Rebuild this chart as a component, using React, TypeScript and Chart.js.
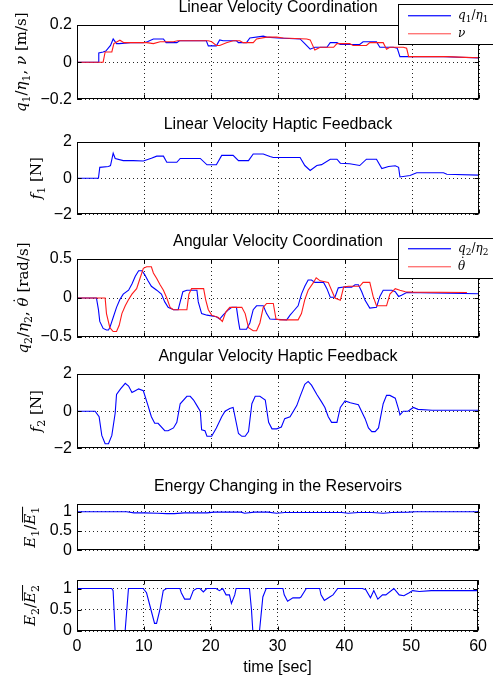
import React, { useEffect, useRef } from "react";
import { Chart, registerables } from "chart.js";

Chart.register(...registerables);

const BLUE = "#0000ff";
const RED = "#ff1a1a";

// ---------- Panel 1: Linear Velocity Coordination ----------
const p1BlueT = [0, 3.2, 3.25, 3.9, 4.3, 5.0, 5.4, 5.9, 6.3, 8, 9.9, 10.5, 11.4, 12.9, 13.3, 14.9, 15.3, 17, 19.3, 19.6, 20.8, 21.3, 21.8, 23.8, 24.1, 25.3, 25.8, 27.8, 28.3, 30, 33.3, 34.0, 34.8, 35.5, 37.3, 37.8, 38.8, 39.3, 42.2, 42.7, 44.7, 45.2, 46.2, 47.2, 47.8, 48.2, 50, 54.7, 57, 60];
const p1Blue = [0, 0, 0.05, 0.055, 0.06, 0.09, 0.125, 0.1, 0.1, 0.105, 0.105, 0.11, 0.125, 0.125, 0.105, 0.105, 0.115, 0.115, 0.115, 0.088, 0.088, 0.12, 0.115, 0.115, 0.105, 0.105, 0.13, 0.14, 0.135, 0.13, 0.125, 0.1, 0.07, 0.08, 0.08, 0.105, 0.105, 0.095, 0.095, 0.11, 0.11, 0.08, 0.08, 0.08, 0.075, 0.03, 0.03, 0.03, 0.027, 0.023];
const p1RedT = [0, 3.9, 4.2, 5.2, 5.5, 6.4, 7, 10.4, 11.4, 12.4, 14.4, 15, 19.6, 20.1, 20.8, 21.3, 22.3, 23.3, 24.3, 24.8, 26.3, 26.8, 28.3, 29.8, 30.8, 34.3, 34.8, 35.5, 36.3, 38.3, 38.8, 40.7, 41.2, 43.2, 43.7, 45.7, 46.2, 46.7, 48.7, 49.2, 49.5, 55.2, 58, 60];
const p1Red = [0, 0, 0.055, 0.055, 0.1, 0.118, 0.105, 0.105, 0.1, 0.11, 0.11, 0.115, 0.115, 0.11, 0.09, 0.09, 0.105, 0.115, 0.115, 0.105, 0.105, 0.125, 0.135, 0.135, 0.13, 0.125, 0.12, 0.065, 0.08, 0.08, 0.1, 0.1, 0.09, 0.09, 0.105, 0.105, 0.07, 0.08, 0.08, 0.075, 0.03, 0.03, 0.026, 0.024];

// ---------- Panel 2: Linear Velocity Haptic Feedback ----------
const p2T = [0, 3.2, 3.4, 4.7, 5.0, 5.4, 5.7, 6.9, 8.4, 9.9, 11.1, 11.9, 12.9, 13.4, 14.9, 15.4, 18.4, 19.4, 20.8, 21.6, 23.3, 24.1, 25.6, 26.3, 27.8, 28.8, 29.3, 33.3, 34.0, 34.8, 35.8, 36.5, 37.8, 38.8, 39.3, 40.7, 42.2, 43.2, 44.7, 45.5, 46.5, 47.5, 48.0, 48.2, 49.7, 50.7, 54.7, 55.2, 60];
const p2F1 = [0, 0, 0.6, 0.65, 0.7, 1.38, 1.09, 0.97, 0.97, 0.95, 1.1, 1.22, 1.22, 0.88, 0.88, 1.09, 1.09, 0.74, 0.74, 1.26, 1.26, 0.97, 0.97, 1.34, 1.34, 1.2, 1.14, 1.14, 0.7, 0.43, 0.7, 0.75, 1.05, 1.05, 0.83, 0.8, 0.7, 1.05, 1.05, 0.53, 0.65, 0.69, 0.6, 0.07, 0.15, 0.3, 0.3, 0.22, 0.17];

// ---------- Panel 3: Angular Velocity Coordination ----------
const p3BlueT = [0, 2.9, 3.2, 3.4, 3.9, 4.4, 4.7, 4.9, 5.4, 5.9, 6.4, 6.9, 7.7, 8.2, 8.7, 9.2, 9.7, 10.1, 10.6, 11.1, 11.9, 12.6, 13.1, 13.6, 14.4, 15.1, 15.4, 15.8, 16.4, 17.9, 18.1, 18.6, 19.4, 20.8, 21.3, 21.8, 22.6, 23.1, 23.8, 24.1, 24.3, 25.3, 25.8, 26.3, 26.8, 27.8, 28.3, 28.8, 31.3, 31.8, 32.3, 33.0, 33.5, 34.0, 34.5, 35.0, 35.5, 36.8, 37.3, 37.8, 38.5, 39.0, 39.8, 41.0, 41.5, 42.0, 42.5, 43.0, 43.7, 44.7, 45.2, 45.7, 47.0, 47.5, 48.0, 48.5, 49.2, 53.2, 60];
const p3Blue = [0, 0, -0.15, -0.3, -0.39, -0.41, -0.41, -0.38, -0.25, -0.12, -0.02, 0.05, 0.1, 0.18, 0.28, 0.35, 0.35, 0.3, 0.22, 0.15, 0.1, 0.05, -0.05, -0.12, -0.15, -0.15, -0.05, 0.08, 0.1, 0.1, -0.05, -0.2, -0.22, -0.24, -0.27, -0.22, -0.15, -0.12, -0.12, -0.3, -0.4, -0.4, -0.32, -0.15, -0.1, -0.1, -0.2, -0.27, -0.28, -0.22, -0.17, -0.1, 0.05, 0.15, 0.23, 0.23, 0.2, 0.2, 0.12, 0.01, 0.01, 0.13, 0.14, 0.14, 0.17, 0.17, 0.08, -0.03, -0.13, -0.12, 0.02, 0.1, 0.1, 0.08, 0.02, 0.04, 0.07, 0.065, 0.055];
const p3RedT = [0, 4.2, 4.4, 4.9, 5.4, 5.9, 6.3, 6.7, 7.2, 7.7, 8.2, 8.9, 9.4, 9.9, 10.4, 11.1, 11.4, 11.9, 12.4, 12.9, 13.4, 13.9, 14.4, 16.4, 16.7, 17.1, 18.9, 19.2, 19.6, 20.1, 21.1, 21.7, 22.2, 22.8, 24.6, 25.1, 25.6, 26.3, 26.8, 27.3, 27.8, 28.3, 29.3, 29.7, 30.3, 33.0, 33.5, 34.0, 34.5, 35.3, 35.7, 36.3, 37.5, 38.0, 38.5, 39.3, 39.8, 40.5, 42.2, 42.7, 43.7, 44.2, 44.7, 46.2, 46.7, 47.5, 48.2, 49.0, 50.0, 58.2];
const p3Red = [0, 0, -0.2, -0.38, -0.43, -0.43, -0.35, -0.2, -0.1, -0.02, 0.05, 0.12, 0.25, 0.38, 0.4, 0.4, 0.32, 0.25, 0.17, 0.1, 0.0, -0.12, -0.15, -0.15, 0.05, 0.12, 0.12, -0.02, -0.15, -0.22, -0.25, -0.3, -0.18, -0.12, -0.12, -0.2, -0.38, -0.42, -0.42, -0.32, -0.12, -0.07, -0.07, -0.27, -0.28, -0.28, -0.2, -0.02, 0.1, 0.2, 0.26, 0.22, 0.2, 0.1, 0.0, -0.03, 0.14, 0.15, 0.15, 0.2, 0.2, 0.02, -0.1, -0.1, 0.05, 0.12, 0.1, 0.08, 0.075, 0.07];

// ---------- Panel 4: Angular Velocity Haptic Feedback ----------
const p4T = [0, 2.7, 3.3, 3.7, 4.2, 4.7, 5.2, 5.7, 5.9, 6.5, 7.2, 7.7, 8.2, 8.7, 9.2, 9.9, 10.6, 11.1, 11.6, 12.1, 13.1, 13.6, 14.4, 14.9, 15.4, 16.4, 16.9, 17.4, 17.9, 18.4, 18.6, 19.1, 19.4, 20.1, 20.8, 21.6, 22.1, 22.8, 23.3, 24.1, 24.6, 25.1, 25.6, 26.1, 26.6, 27.3, 28.1, 28.6, 29.1, 29.8, 30.5, 31.0, 31.8, 32.8, 33.3, 34.0, 34.5, 35.0, 35.8, 36.5, 37.0, 37.5, 38.0, 38.8, 39.3, 40.0, 40.8, 42.0, 43.0, 43.5, 44.0, 44.5, 45.0, 45.7, 46.2, 46.7, 47.5, 48.0, 48.2, 48.7, 49.4, 50.2, 50.9, 53.0, 60];
const p4F2 = [0, 0, -0.3, -1.3, -1.75, -1.75, -1.3, -0.1, 0.9, 1.2, 1.5, 1.35, 1.0, 1.1, 1.2, 1.1, 0.3, -0.3, -0.65, -0.65, -1.05, -1.05, -0.9, -0.6, 0.4, 0.8, 0.8, 0.6, 0.3, 0.0, -1.0, -1.05, -1.35, -1.35, -0.9, -0.3, 0.0, 0.15, 0.2, -1.2, -1.35, -1.35, -1.1, 0.4, 0.8, 0.8, 0.6, -0.6, -0.95, -0.95, -0.85, -0.4, -0.3, 0.3, 0.8, 1.45, 1.6, 1.4, 0.9, 0.5, 0.2, -0.3, -0.6, -0.6, 0.2, 0.55, 0.45, 0.35, -0.4, -0.9, -1.1, -1.1, -0.9, 0.4, 0.85, 0.85, 0.7, 0.1, -0.2, 0.0, 0.0, 0.2, 0.1, 0.05, 0.05];

// ---------- Panel 5: Energy E1 ----------
const p5T = [0, 7.4, 8.5, 10, 12, 13.4, 14.5, 16, 19.4, 20.5, 24.5, 25, 26.5, 28.5, 29.8, 31, 39.5, 40.5, 42, 44, 45.7, 47, 49.5, 50.5, 60];
const p5E1 = [1, 1, 0.97, 0.97, 0.96, 0.95, 0.95, 0.97, 0.97, 0.99, 0.99, 0.96, 0.99, 0.99, 0.96, 0.98, 0.98, 0.96, 0.98, 0.98, 0.96, 0.98, 0.99, 1, 1];

// ---------- Panel 6: Energy E2 ----------
const p6T = [0, 5.2, 5.4, 5.7, 7.2, 7.7, 9.9, 10.4, 10.9, 11.4, 11.6, 11.9, 12.4, 12.9, 13.4, 15.4, 15.6, 16.1, 16.9, 17.4, 17.9, 18.4, 18.9, 19.4, 20.8, 21.3, 21.8, 22.3, 22.8, 23.1, 23.6, 23.8, 25.8, 26.1, 26.3, 27.3, 27.8, 28.3, 30.8, 31.0, 31.5, 32.3, 33.3, 33.5, 34.3, 36.3, 36.5, 37.0, 37.8, 38.3, 39.0, 42.7, 43.2, 43.9, 44.4, 45.0, 45.7, 46.2, 47.4, 48.2, 48.9, 49.7, 50.2, 51.2, 53.0, 60];
const p6E2 = [1, 1, 0.95, 0, 0, 1, 1, 0.9, 0.6, 0.3, 0.18, 0.18, 0.5, 0.95, 1, 1, 0.9, 0.75, 0.75, 0.95, 1, 1, 0.92, 1, 1, 0.95, 1, 0.85, 0.85, 0.65, 0.85, 1, 1, 0.5, 0, 0, 0.8, 1, 1, 0.85, 0.7, 0.78, 0.78, 0.8, 1, 1, 0.85, 0.72, 0.8, 0.85, 1, 1, 0.97, 0.78, 0.95, 0.75, 0.85, 0.85, 1, 0.85, 0.83, 0.9, 0.95, 0.93, 0.95, 0.95];

// ---------- Axis ticks ----------
const xTicksVals = [0, 10, 20, 30, 40, 50, 60];
const xTickLabels = ["0", "10", "20", "30", "40", "50", "60"];
const p1YTicks = [-0.2, 0, 0.2];
const p1YLabels = ["\u22120.2", "0", "0.2"];
const p2YTicks = [-2, 0, 2];
const p2YLabels = ["\u22122", "0", "2"];
const p3YTicks = [-0.5, 0, 0.5];
const p3YLabels = ["\u22120.5", "0", "0.5"];
const eYTicks = [0, 0.5, 1];
const eYLabels = ["0", "0.5", "1"];

// rich text segments: i = italic, sub = subscript, dot = dot accent, bar = overline
type Seg = { t: string; i?: boolean; sub?: boolean; dot?: boolean; bar?: boolean };

const yLabel1: Seg[] = [{ t: "q", i: true }, { t: "1", sub: true }, { t: "/" }, { t: "\u03b7", i: true }, { t: "1", sub: true }, { t: ", " }, { t: "\u03bd", i: true }, { t: " [m/s]" }];
const yLabel2: Seg[] = [{ t: "f", i: true }, { t: "1", sub: true }, { t: " [N]" }];
const yLabel3: Seg[] = [{ t: "q", i: true }, { t: "2", sub: true }, { t: "/" }, { t: "\u03b7", i: true }, { t: "2", sub: true }, { t: ", " }, { t: "\u03b8", i: true, dot: true }, { t: " [rad/s]" }];
const yLabel4: Seg[] = [{ t: "f", i: true }, { t: "2", sub: true }, { t: " [N]" }];
const yLabel5: Seg[] = [{ t: "E", i: true }, { t: "1", sub: true }, { t: "/" }, { t: "E", i: true, bar: true }, { t: "1", sub: true, bar: true }];
const yLabel6: Seg[] = [{ t: "E", i: true }, { t: "2", sub: true }, { t: "/" }, { t: "E", i: true, bar: true }, { t: "2", sub: true, bar: true }];
const leg1a: Seg[] = [{ t: "q", i: true }, { t: "1", sub: true }, { t: "/" }, { t: "\u03b7", i: true }, { t: "1", sub: true }];
const leg1b: Seg[] = [{ t: "\u03bd", i: true }];
const leg3a: Seg[] = [{ t: "q", i: true }, { t: "2", sub: true }, { t: "/" }, { t: "\u03b7", i: true }, { t: "2", sub: true }];
const leg3b: Seg[] = [{ t: "\u03b8", i: true, dot: true }];

type Series = { t: number[]; y: number[]; color: string; order: number };
type LegendItem = { label: Seg[]; swatch: string };
type Spec = {
  top: number;
  bottom: number;
  padBottom: number;
  yMin: number;
  yMax: number;
  yTicks: number[];
  yTickLabels: string[];
  title?: string;
  yLabel: Seg[];
  yLabelX: number;
  series: Series[];
  legend?: LegendItem[];
  legendRows?: number[];
  xLabels: boolean;
};

const PAD_TOP = 25;
const PLOT_LEFT = 77;
const PAD_RIGHT = 14;
const SANS = "'Liberation Sans', Arial, Helvetica, sans-serif";
const SERIF = "'DejaVu Serif', 'Liberation Serif', serif";
const YL_SIZE = 15;

const specs: Spec[] = [
  {
    top: 25, bottom: 104, padBottom: 10, yMin: -0.2, yMax: 0.2,
    yTicks: p1YTicks, yTickLabels: p1YLabels,
    title: "Linear Velocity Coordination",
    yLabel: yLabel1, yLabelX: 21,
    series: [
      { t: p1BlueT, y: p1Blue, color: BLUE, order: 2 },
      { t: p1RedT, y: p1Red, color: RED, order: 1 },
    ],
    legend: [
      { label: leg1a, swatch: "rgb(40,40,255)" },
      { label: leg1b, swatch: "rgb(255,120,120)" },
    ],
    legendRows: [11, 29],
    xLabels: false,
  },
  {
    top: 142, bottom: 219, padBottom: 10, yMin: -2, yMax: 2,
    yTicks: p2YTicks, yTickLabels: p2YLabels,
    title: "Linear Velocity Haptic Feedback",
    yLabel: yLabel2, yLabelX: 36,
    series: [{ t: p2T, y: p2F1, color: BLUE, order: 1 }],
    xLabels: false,
  },
  {
    top: 259, bottom: 337, padBottom: 20, yMin: -0.5, yMax: 0.5,
    yTicks: p3YTicks, yTickLabels: p3YLabels,
    title: "Angular Velocity Coordination",
    yLabel: yLabel3, yLabelX: 23,
    series: [
      { t: p3BlueT, y: p3Blue, color: BLUE, order: 2 },
      { t: p3RedT, y: p3Red, color: RED, order: 1 },
    ],
    legend: [
      { label: leg3a, swatch: "rgb(40,40,255)" },
      { label: leg3b, swatch: "rgb(255,120,120)" },
    ],
    legendRows: [10, 28],
    xLabels: false,
  },
  {
    top: 374, bottom: 453, padBottom: 10, yMin: -2, yMax: 2,
    yTicks: p2YTicks, yTickLabels: p2YLabels,
    title: "Angular Velocity Haptic Feedback",
    yLabel: yLabel4, yLabelX: 36,
    series: [{ t: p4T, y: p4F2, color: BLUE, order: 1 }],
    xLabels: false,
  },
  {
    top: 504, bottom: 555, padBottom: 10, yMin: 0, yMax: 1.2,
    yTicks: eYTicks, yTickLabels: eYLabels,
    title: "Energy Changing in the Reservoirs",
    yLabel: yLabel5, yLabelX: 30,
    series: [{ t: p5T, y: p5E1, color: BLUE, order: 1 }],
    xLabels: false,
  },
  {
    top: 580, bottom: 631, padBottom: 50, yMin: 0, yMax: 1.2,
    yTicks: eYTicks, yTickLabels: eYLabels,
    yLabel: yLabel6, yLabelX: 30,
    series: [{ t: p6T, y: p6E2, color: BLUE, order: 1 }],
    xLabels: true,
  },
];

function segFont(s: Seg, size: number) {
  const sz = s.sub ? Math.round(size * 0.72) : size;
  return `${s.i ? "italic " : ""}${sz}px ${SERIF}`;
}

function measureRich(ctx: CanvasRenderingContext2D, segs: Seg[], size: number) {
  let w = 0;
  for (const s of segs) {
    ctx.font = segFont(s, size);
    w += ctx.measureText(s.t).width;
  }
  return w;
}

// draws left-aligned at x0 with alphabetic baseline y0
function drawRich(ctx: CanvasRenderingContext2D, segs: Seg[], x0: number, y0: number, size: number) {
  ctx.textAlign = "left";
  ctx.textBaseline = "alphabetic";
  let x = x0;
  let barStart: number | null = null;
  let barEnd = 0;
  for (const s of segs) {
    ctx.font = segFont(s, size);
    const w = ctx.measureText(s.t).width;
    const dy = s.sub ? size * 0.25 : 0;
    ctx.fillText(s.t, x, y0 + dy);
    if (s.dot) {
      ctx.font = `${size}px ${SERIF}`;
      ctx.textAlign = "center";
      ctx.fillText("\u02d9", x + w / 2 + size * 0.1, y0 - size * 0.22);
      ctx.textAlign = "left";
    }
    if (s.bar) {
      if (barStart === null) barStart = x + size * 0.15;
      barEnd = x + w;
    }
    x += w;
  }
  if (barStart !== null) {
    ctx.fillRect(barStart, y0 - size * 0.86, barEnd - barStart, 1);
  }
}

function makeDecor(spec: Spec) {
  return {
    id: "matlabDecor",
    afterDraw(chart: any) {
      const { ctx, chartArea: a, scales } = chart;
      ctx.save();
      ctx.setLineDash([]);
      ctx.strokeStyle = "#000";
      ctx.lineWidth = 1;
      const L = Math.round(a.left) + 0.5;
      const R = Math.round(a.right) - 0.5;
      const T = Math.round(a.top) + 0.5;
      const B = Math.round(a.bottom) - 0.5;
      ctx.strokeRect(L, T, R - L, B - T);
      ctx.beginPath();
      const tl = 4;
      for (const v of xTicksVals) {
        const px = Math.round(scales.x.getPixelForValue(v)) + 0.5;
        ctx.moveTo(px, B);
        ctx.lineTo(px, B - tl);
        ctx.moveTo(px, T);
        ctx.lineTo(px, T + tl);
      }
      for (const v of spec.yTicks) {
        const py = Math.round(scales.y.getPixelForValue(v)) + 0.5;
        ctx.moveTo(L, py);
        ctx.lineTo(L + tl, py);
        ctx.moveTo(R, py);
        ctx.lineTo(R - tl, py);
      }
      ctx.stroke();
      ctx.fillStyle = "#000";
      if (spec.title) {
        ctx.font = `16px ${SANS}`;
        ctx.textAlign = "center";
        ctx.textBaseline = "middle";
        ctx.fillText(spec.title, (a.left + a.right) / 2, a.top - 17);
      }
      // rotated y-axis label
      const w = measureRich(ctx, spec.yLabel, YL_SIZE);
      ctx.save();
      ctx.translate(spec.yLabelX, (a.top + a.bottom) / 2);
      ctx.rotate(-Math.PI / 2);
      drawRich(ctx, spec.yLabel, -w / 2, YL_SIZE * 0.33, YL_SIZE);
      ctx.restore();
      ctx.restore();

      if (spec.legend && spec.legendRows) {
        const bx = 398.5;
        const by = Math.round(a.top) - 21 + 0.5;
        ctx.save();
        ctx.setLineDash([]);
        ctx.lineWidth = 1;
        ctx.fillStyle = "#ffffff";
        ctx.fillRect(bx, by, 120, 40);
        ctx.strokeStyle = "#000000";
        ctx.strokeRect(bx, by, 120, 40);
        for (let i = 0; i < spec.legend.length; i++) {
          const item = spec.legend[i];
          const yy = Math.floor(by + spec.legendRows[i]);
          ctx.fillStyle = item.swatch;
          ctx.fillRect(408, yy, 43, 1.4);
          ctx.fillStyle = "#000000";
          drawRich(ctx, item.label, 458, yy + 4, 12);
        }
        ctx.restore();
      }
    },
  };
}

function Panel({ spec }: { spec: Spec }) {
  const ref = useRef<HTMLCanvasElement>(null);
  const canvasTop = spec.top - PAD_TOP;
  const height = spec.bottom - spec.top + PAD_TOP + spec.padBottom;

  useEffect(() => {
    if (!ref.current) return;
    const chart = new Chart(ref.current, {
      type: "line",
      data: {
        datasets: spec.series.map((s) => ({
          data: s.t.map((t, i) => ({ x: t, y: s.y[i] })),
          borderColor: s.color,
          borderWidth: 1.1,
          pointRadius: 0,
          fill: false,
          tension: 0,
          order: s.order,
        })),
      },
      options: {
        animation: false,
        responsive: false,
        maintainAspectRatio: false,
        events: [],
        layout: {
          padding: {
            top: PAD_TOP,
            left: 0,
            right: PAD_RIGHT,
            bottom: spec.xLabels ? 0 : spec.padBottom,
          },
        },
        plugins: {
          legend: { display: false },
          tooltip: { enabled: false },
          title: { display: false },
        },
        scales: {
          x: {
            type: "linear",
            min: 0,
            max: 60,
            afterBuildTicks: (s: any) => {
              s.ticks = xTicksVals.map((v) => ({ value: v }));
            },
            ticks: {
              display: spec.xLabels,
              padding: 6,
              color: "#000",
              maxRotation: 0,
              autoSkip: false,
              font: { family: SANS, size: 16 },
              callback: (_v: any, i: number) => xTickLabels[i],
            },
            grid: { color: "rgba(0,0,0,0.85)", lineWidth: 1, drawTicks: false },
            border: { display: false, dash: [1, 3] },
            title: {
              display: spec.xLabels,
              text: "time [sec]",
              color: "#000",
              font: { family: SANS, size: 16 },
              padding: { top: 0, bottom: 4 },
            },
            afterFit: (s: any) => {
              s.height = spec.xLabels ? spec.padBottom : 0;
            },
          },
          y: {
            type: "linear",
            min: spec.yMin,
            max: spec.yMax,
            afterBuildTicks: (s: any) => {
              s.ticks = spec.yTicks.map((v) => ({ value: v }));
            },
            ticks: {
              padding: 5,
              color: "#000",
              autoSkip: false,
              font: { family: SANS, size: 16 },
              callback: (_v: any, i: number) => spec.yTickLabels[i],
            },
            grid: { color: "rgba(0,0,0,0.85)", lineWidth: 1, drawTicks: false },
            border: { display: false, dash: [1, 3] },
            title: { display: false },
            afterFit: (s: any) => {
              s.width = PLOT_LEFT;
            },
          },
        },
      } as any,
      plugins: [makeDecor(spec)],
    });
    return () => chart.destroy();
  }, [spec]);

  return (
    <canvas
      ref={ref}
      width={493}
      height={height}
      style={{ position: "absolute", left: 0, top: canvasTop, width: 493, height }}
    />
  );
}

export default function App() {
  return (
    <div style={{ position: "absolute", left: 0, top: 0, width: 493, height: 681, background: "#fff", overflow: "hidden" }}>
      {specs.map((s, i) => (
        <Panel key={i} spec={s} />
      ))}
    </div>
  );
}
